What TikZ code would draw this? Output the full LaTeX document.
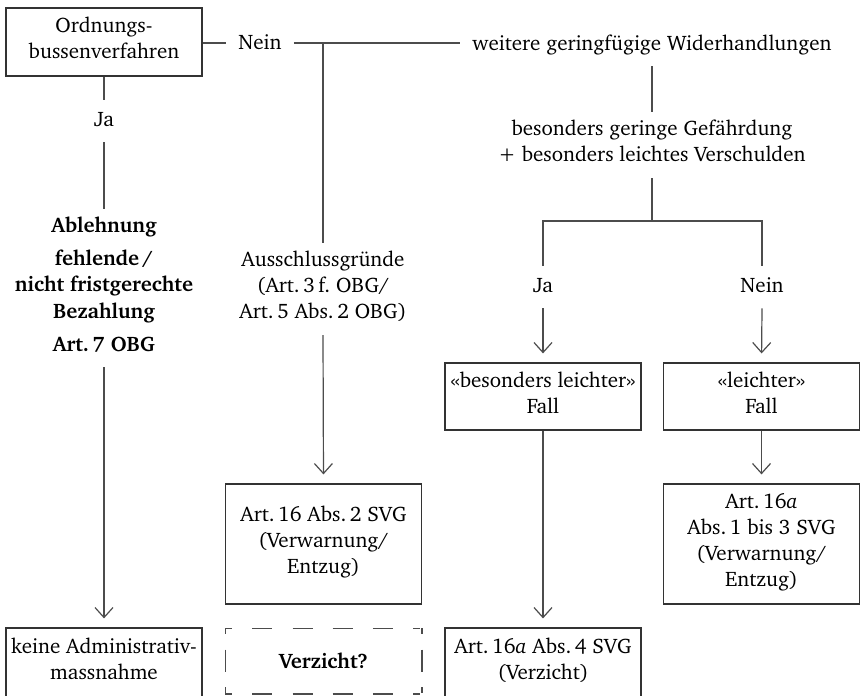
\documentclass[tikz,border=0pt]{standalone}
\usepackage[T1]{fontenc}
\usepackage{charter}
\usetikzlibrary{arrows.meta}
\frenchspacing
\tikzset{
  txt/.style={font=\fontsize{10.5}{13}\selectfont, align=center,
    execute at begin node=\strut, execute at end node=\strut},
  lbl/.style={txt, inner xsep=6pt, inner ysep=4pt},
  boldlbl/.style={lbl, font=\fontsize{10.5}{13}\selectfont\bfseries},
  box/.style={txt, draw=black!80, line width=0.6pt, minimum width=98pt,
    inner sep=0pt, minimum height=#1},
  lower/.style={execute at begin node=\rule{0pt}{#1}},
  conn/.style={draw=black!70, line width=0.6pt},
  arr/.style={conn, -{Straight Barb[length=5pt,width=9pt]}, shorten >=4.5pt},
  hdash/.style={conn, dash pattern=on 3.5pt off 10.1pt on 10pt off 10.1pt on 10pt
    off 10.1pt on 10pt off 10.1pt on 10pt off 10.1pt on 3.5pt off 50pt},
  vdash/.style={conn, dash pattern=on 3pt off 7.75pt on 11pt off 7.75pt on 3pt off 50pt},
}
\begin{document}
\begin{tikzpicture}[x=0.5pt, y=-0.5pt]
\useasboundingbox (0,0) rectangle (860,695);

% top row
\node[box=34pt] (obv) at (104,42) {Ordnungs-\\bussenverfahren};
\node[lbl] (nein1) at (260,44.5) {Nein};
\node[lbl] (wgw) at (652,45) {weitere geringf\"ugige Widerhandlungen};
\coordinate (j1) at (323,43);

% left column
\node[lbl] (ja1) at (104,121) {Ja};
\node[boldlbl] (abl) at (104,288) {Ablehnung\\[3.5pt]fehlende\,/\\nicht fristgerechte\\Bezahlung\\[3.5pt]Art.\,7 OBG};
\node[box=35pt] (keine) at (104,663) {keine Administrativ-\\massnahme};

% second column
\node[lbl] (aus) at (323,289) {Ausschlussgr\"unde\\(Art.\,3\,f.\ OBG/\\Art.\,5 Abs.\,2 OBG)};
\node[box=60pt, lower=15.1pt] (a16) at (323.5,544) {Art.\,16 Abs.\,2 SVG\\(Verwarnung/\\Entzug)};
\node[txt, minimum width=98pt, minimum height=32.5pt, inner sep=0pt, lower=11.1pt] (verz) at (323.5,661) {\textbf{Verzicht?}};

% right part
\node[lbl] (bes) at (652,145) {besonders geringe Gef\"ahrdung\\+ besonders leichtes Verschulden};
\coordinate (j2) at (652,221);
\node[lbl] (ja2) at (543,287) {Ja};
\node[lbl] (nein2) at (762,287) {Nein};
\node[box=33.5pt, lower=11.1pt] (bl) at (543,396.5) {\guillemotleft besonders leichter\guillemotright\\Fall};
\node[box=33.5pt, lower=11.1pt] (lf) at (761.5,396.5) {\guillemotleft leichter\guillemotright\\Fall};
\node[box=35pt] (a16a4) at (543,663) {Art.\,16\textit{a} Abs.\,4 SVG\\(Verzicht)};
\node[box=60pt, lower=11.6pt] (a16a13) at (761.5,544) {Art.\,16\textit{a}\\Abs.\,1 bis 3 SVG\\(Verwarnung/\\Entzug)};

% dashed outline of the open question
\draw[hdash] (verz.north west) -- (verz.north east);
\draw[hdash] (verz.south west) -- (verz.south east);
\draw[vdash] (verz.north west) -- (verz.south west);
\draw[vdash] (verz.north east) -- (verz.south east);

% connectors
\draw[conn] (obv.east |- j1) -- (nein1.west |- j1);
\draw[conn] (nein1.east |- j1) -- (wgw.west |- j1);
\draw[conn] (j1) -- (aus.north);
\draw[arr] (aus.south) -- (a16.north);

\draw[conn] (obv.south) -- (ja1.north);
\draw[conn] (ja1.south) -- (abl.north);
\draw[arr] (abl.south) -- (keine.north);

\draw[conn] (wgw.south) -- (bes.north);
\draw[conn] (bes.south) -- (j2);
\draw[conn] (ja2.north) -- (ja2.north |- j2) -- (nein2.north |- j2) -- (nein2.north);
\draw[arr] (ja2.south) -- (bl.north);
\draw[arr] (nein2.south) -- (lf.north);
\draw[arr] (bl.south) -- (a16a4.north);
\draw[arr] (lf.south) -- (a16a13.north);
\end{tikzpicture}
\end{document}
